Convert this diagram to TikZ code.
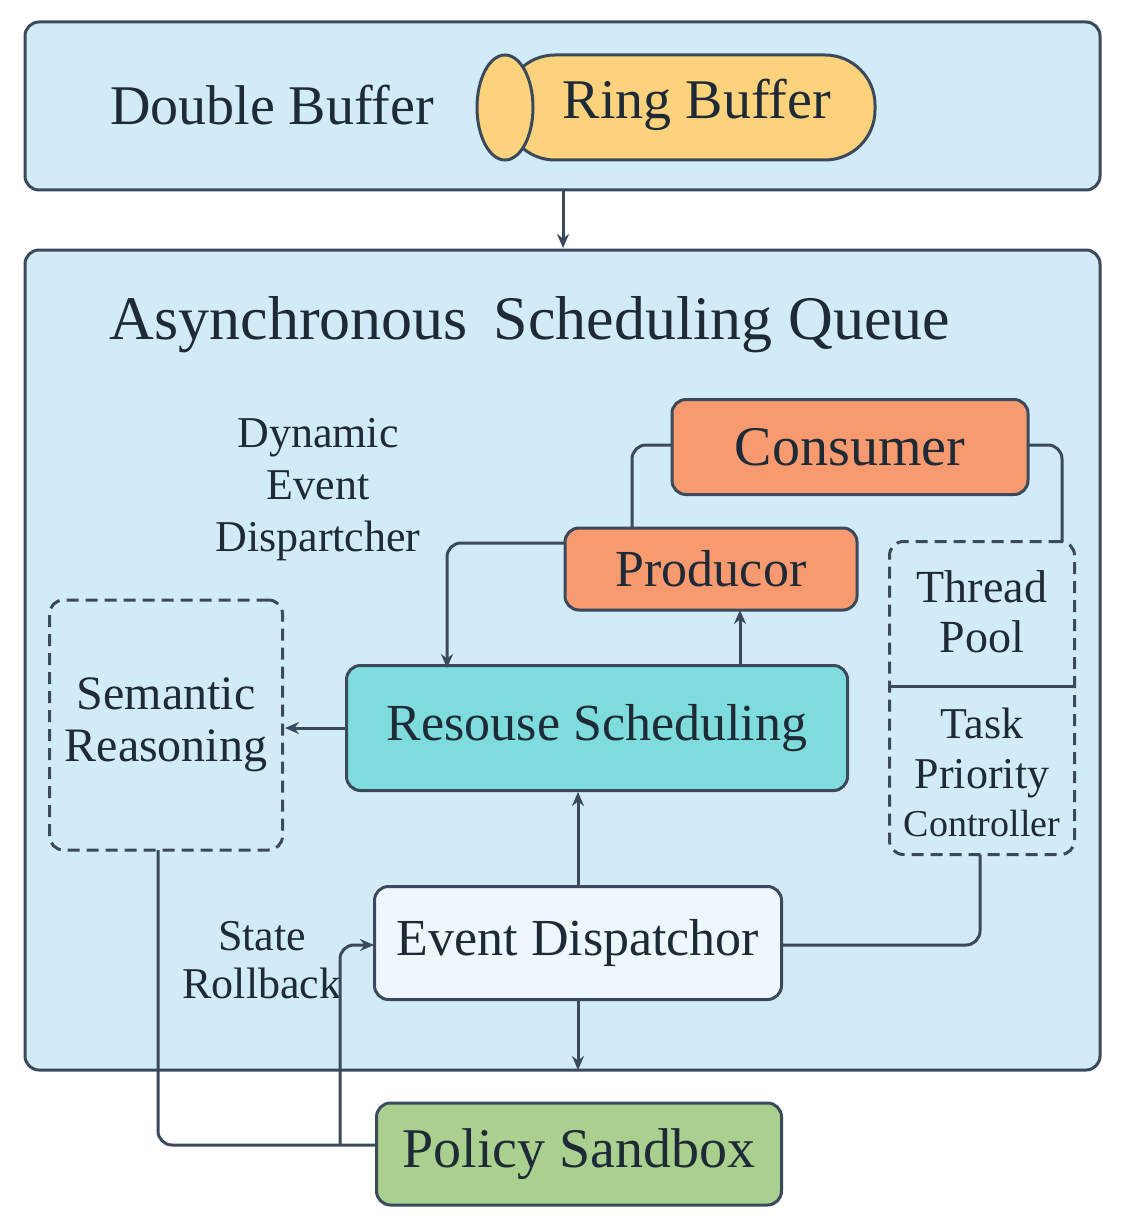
\documentclass[tikz,border=0pt]{standalone}
\usepackage{fontspec}
\setmainfont{Liberation Serif}
\usetikzlibrary{arrows.meta,shapes.geometric}
\definecolor{bg}{HTML}{D2ECF7}
\definecolor{ln}{HTML}{3A4A5C}
\definecolor{tx}{HTML}{1E2A36}
\definecolor{org}{HTML}{F79A70}
\definecolor{yel}{HTML}{FCD37C}
\definecolor{teal}{HTML}{7EDCDC}
\definecolor{grn}{HTML}{A9D08E}
\begin{document}
\begin{tikzpicture}[x=1pt,y=-1pt,line width=3pt,
  box/.style={draw=ln,rounded corners=14pt},
  dbox/.style={draw=ln,dashed,dash pattern=on 12pt off 7pt,rounded corners=14pt},
  txt/.style={text=tx,font=\fontsize{56}{62}\selectfont,align=center},
  stxt/.style={text=tx,font=\fontsize{48}{52}\selectfont,align=center},
  arr/.style={draw=ln,-{Stealth[length=14pt,width=12pt]},rounded corners=14pt},
  con/.style={draw=ln,rounded corners=14pt}]
\useasboundingbox (0,0) rectangle (1125,1225);
% top box
\draw[box,fill=bg] (25,22) rectangle (1100,190);
\node[txt] (db) at (272,105) {Double Buffer};
\draw[draw=ln,fill=yel,rounded corners=50pt] (505,55) rectangle (875,160);
\draw[draw=ln,fill=yel] (505,107.5) ellipse [x radius=28pt,y radius=52.5pt];
\node[txt] (rb) at (697,105) {Ring Buffer};
% big box
\draw[box,fill=bg] (25,250) rectangle (1100,1070);
\coordinate (a1) at (563,190); \coordinate (a2) at (563,248);
\draw[arr] (a1) -- (a2);
\node[txt,font=\fontsize{62}{66}\selectfont] (title) at (530,325) {Asynchronous\, Scheduling Queue};
\node[stxt,font=\fontsize{44}{52}\selectfont] (dyn) at (318,490) {Dynamic\\Event\\Dispartcher};
\node[box,fill=org,minimum width=356pt,minimum height=95pt,txt] (cons) at (850,447) {Consumer};
\node[box,fill=org,minimum width=292pt,minimum height=82pt,txt,font=\fontsize{52}{56}\selectfont] (prod) at (711,569) {Producor};
\node[box,fill=teal,minimum width=501pt,minimum height=125pt,txt,font=\fontsize{52}{56}\selectfont] (res) at (597,728) {Resouse Scheduling};
\node[dbox,minimum width=233pt,minimum height=250pt] (sem) at (166,725) {};
\node[stxt] at (sem) {Semantic\\Reasoning};
\node[dbox,minimum width=185pt,minimum height=313pt] (tp) at (982,698) {};
\draw[draw=ln] (890,686) -- (1075,686);
\node[stxt,font=\fontsize{46}{50}\selectfont] at (982,612) {Thread\\Pool};
\node[stxt,font=\fontsize{44}{50}\selectfont] at (982,772) {Task\\Priority\\[-2pt]{\fontsize{38}{40}\selectfont Controller}};
\node[box,fill=white!60!bg,minimum width=407pt,minimum height=113pt,txt,font=\fontsize{52}{56}\selectfont] (ev) at (578,943) {Event Dispatchor};
\node[box,fill=grn,minimum width=405pt,minimum height=102pt,txt] (pol) at (579,1154) {Policy Sandbox};
\node[stxt,font=\fontsize{44}{48}\selectfont] (sr) at (262,960) {State\\Rollback};
% connectors
\draw[con] (632,528) -- (632,445) -- (672,445);
\draw[con] (1028,445) -- (1062,445) -- (1062,542);
\draw[arr] (565,543) -- (447,543) -- (447,668);
\draw[arr] (740,666) -- (740,610);
\draw[arr] (347,728) -- (285,728);
\draw[arr] (ev.north) -- (res.south -| ev.north);
\draw[con] (782,945) -- (980,945) -- (980,855);
\draw[arr] (ev.south) -- (578,1070);
\draw[con] (158,850) -- (158,1145) -- (377,1145);
\draw[arr] (340,1145) -- (340,945) -- (374,945);
\end{tikzpicture}
\end{document}
